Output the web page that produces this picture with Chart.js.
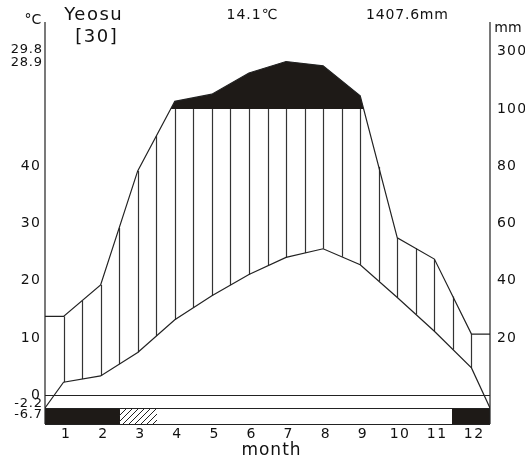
<!DOCTYPE html>
<html>
<head>
<meta charset="utf-8">
<script src="https://cdn.jsdelivr.net/npm/chart.js@4.4.0/dist/chart.umd.min.js"></script>
<style>
  html, body { margin: 0; padding: 0; background: #fff; }
  #wrap { width: 525px; height: 461px; }
</style>
</head>
<body>
<div id="wrap"><canvas id="climate" width="525" height="461"></canvas></div>
<script>
// 站点信息
var station = 'Yeosu';
var period = '[30]';
var annualTemp = '14.1℃';
var annualPrecip = '1407.6mm';

// 月平均气温 (℃) 和降水量 (mm)
var months = [1, 2, 3, 4, 5, 6, 7, 8, 9, 10, 11, 12];
var tempC = [2.3, 3.4, 7.5, 13.2, 17.4, 21.1, 24.1, 25.6, 22.8, 17.1, 11.2, 4.8];
var precipMm = [27.6, 38.6, 78.4, 127, 152, 226, 266, 251, 146, 55, 47.6, 21.4];

// 霜冻条: solid = 最低气温<0, hatch = 可能霜冻
var frostBar = ['solid', 'solid', 'hatch', 'none', 'none', 'none', 'none', 'none', 'none', 'none', 'none', 'solid'];

// 刻度与标注
var tempTicks = [0, 10, 20, 30, 40];
var precipTicks = [20, 40, 60, 80, 100];
var precipTopTick = 300;
var maxWarm = '29.8', maxMean = '28.9';
var minCold = -2.2, minAbs = '-6.7';

// 降水换算成气温坐标: 100mm 以下 20mm=10℃, 以上 1:20 压缩
function precipToScale(mm) {
    return mm <= 100 ? mm / 2 : 50 + (mm - 100) / 20;
}

var tempPts = [{ x: 0, y: minCold }];
var precipPts = [{ x: 0, y: precipToScale(precipMm[0]) }];
months.forEach(function (m, i) {
    tempPts.push({ x: m - 0.5, y: tempC[i] });
    precipPts.push({ x: m - 0.5, y: precipToScale(precipMm[i]) });
});
tempPts.push({ x: 12, y: minCold });
precipPts.push({ x: 12, y: precipToScale(precipMm[11]) });

function interp(pts, x) {
    for (var i = 0; i < pts.length - 1; i++) {
        if (x >= pts[i].x && x <= pts[i + 1].x) {
            var t = (x - pts[i].x) / (pts[i + 1].x - pts[i].x);
            return pts[i].y + t * (pts[i + 1].y - pts[i].y);
        }
    }
    return null;
}

var FONT = '"DejaVu Sans", sans-serif';
var INK = '#1e1a17';

// 带字距的文字
function label(c, txt, x, y, size, spacing) {
    c.font = size + 'px ' + FONT;
    c.letterSpacing = (spacing || 0) + 'px';
    var w = c.measureText(txt).width - (spacing || 0);
    var align = c.textAlign;
    var sx = align === 'center' ? x - w / 2 : (align === 'right' ? x - w : x);
    c.save();
    c.textAlign = 'left';
    c.fillText(txt, sx, y);
    c.restore();
}

// 自定义绘制: 刻度、霜冻条、竖线阴影
var climatePlugin = {
    id: 'climatePlugin',
    beforeDatasetsDraw: function (chart) {
        var c = chart.ctx, xs = chart.scales.x, ys = chart.scales.y;
        c.save();
        c.strokeStyle = '#333';
        c.lineWidth = 1.2;
        // 湿润期竖线
        for (var k = 1; k <= 23; k++) {
            var xv = k * 0.5;
            var t = interp(tempPts, xv), p = Math.min(interp(precipPts, xv), 50);
            if (p > t) {
                var px = Math.round(xs.getPixelForValue(xv)) + 0.5;
                c.beginPath();
                c.moveTo(px, ys.getPixelForValue(t));
                c.lineTo(px, ys.getPixelForValue(p));
                c.stroke();
            }
        }
        c.restore();
    },
    afterDatasetsDraw: function (chart) {
        var c = chart.ctx, xs = chart.scales.x, ys = chart.scales.y, a = chart.chartArea;
        c.save();
        var yTop = Math.round(ys.getPixelForValue(minCold)), yBot = Math.round(ys.getPixelForValue(ys.min));
        // 霜冻条
        frostBar.forEach(function (f, i) {
            var x0 = Math.floor(xs.getPixelForValue(i)), x1 = Math.ceil(xs.getPixelForValue(i + 1));
            if (f === 'solid') {
                c.fillStyle = INK;
                c.fillRect(x0, yTop, x1 - x0, yBot - yTop);
            } else if (f === 'hatch') {
                c.save();
                c.beginPath();
                c.rect(x0, yTop, x1 - x0, yBot - yTop);
                c.clip();
                c.strokeStyle = '#222';
                c.lineWidth = 1;
                for (var s = -20; s < (x1 - x0) + 20; s += 6) {
                    c.beginPath();
                    c.moveTo(x0 + s, yBot);
                    c.lineTo(x0 + s + (yBot - yTop), yTop);
                    c.stroke();
                }
                c.restore();
            }
        });
        c.strokeStyle = '#222';
        c.lineWidth = 1.2;
        c.beginPath();
        // 0℃ 线, 霜冻条上沿, 底边
        [0, minCold, ys.min].forEach(function (v) {
            var py = Math.round(ys.getPixelForValue(v)) + 0.5;
            c.moveTo(a.left, py);
            c.lineTo(a.right, py);
        });
        c.moveTo(a.left, a.top);
        c.lineTo(a.left, a.bottom);
        c.moveTo(a.right, a.top);
        c.lineTo(a.right, a.bottom);
        c.stroke();

        // 文本
        c.fillStyle = '#111';
        c.textBaseline = 'middle';
        c.textAlign = 'right';
        tempTicks.forEach(function (v) {
            label(c, String(v), 40, ys.getPixelForValue(v), 14, 1.5);
        });
        label(c, maxWarm, 42, 50, 13, 0.8);
        label(c, maxMean, 42, 63, 13, 0.8);
        label(c, String(minCold), 42, 404, 13, 0.8);
        label(c, minAbs, 42, 415, 13, 0.8);
        c.textAlign = 'left';
        precipTicks.forEach(function (v) {
            label(c, String(v), 497, ys.getPixelForValue(precipToScale(v)), 14, 1.2);
        });
        label(c, String(precipTopTick), 497, ys.getPixelForValue(precipToScale(precipTopTick)), 14, 1.2);
        c.textAlign = 'center';
        months.forEach(function (m) {
            label(c, String(m), xs.getPixelForValue(m - 0.5) + 2, 434, 14, 1.5);
        });
        label(c, 'month', 271, 451, 17, 1);
        label(c, station, 93, 15, 18, 1.5);
        label(c, period, 96, 37, 18, 1.5);
        label(c, annualTemp, 252, 15, 14, 1);
        label(c, annualPrecip, 407, 15, 14, 0.8);
        label(c, '°C', 33, 20, 14, 0);
        label(c, 'mm', 508, 28, 14, 0);
        c.restore();
    }
};

var ctx = document.getElementById('climate').getContext('2d');
var chart = new Chart(ctx, {
    type: 'line',
    data: {
        datasets: [{
            label: 'precip',
            data: precipPts,
            borderColor: '#222',
            borderWidth: 1.2,
            pointRadius: 0,
            tension: 0,
            fill: { target: { value: 50 }, above: INK, below: 'rgba(0,0,0,0)' }
        }, {
            label: 'temp',
            data: tempPts,
            borderColor: '#222',
            borderWidth: 1.2,
            pointRadius: 0,
            tension: 0,
            fill: false
        }]
    },
    options: {
        responsive: false,
        animation: false,
        layout: { padding: { left: 45, right: 35, top: 22, bottom: 37 } },
        plugins: { legend: { display: false }, tooltip: { enabled: false } },
        scales: {
            x: { type: 'linear', min: 0, max: 12, display: false },
            y: { type: 'linear', min: -5, max: 65.2, display: false }
        }
    },
    plugins: [climatePlugin]
});
</script>
</body>
</html>
